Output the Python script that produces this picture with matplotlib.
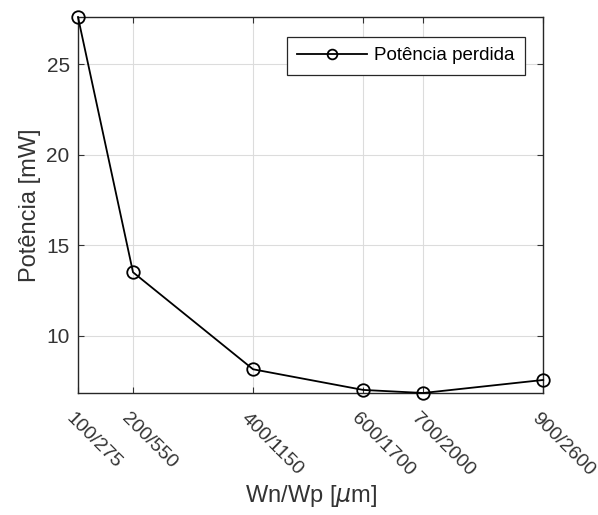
import numpy as np
import matplotlib.pyplot as plt
import matplotlib.transforms as mtransforms

# data
wn = [100, 200, 400, 600, 700, 900]
wp = [275, 550, 1150, 1700, 2000, 2600]
tick_labels = ["100/275", "200/550", "400/1150", "600/1700", "700/2000", "900/2600"]
potencia = [27.6, 13.5, 8.14, 7.0, 6.83, 7.55]

plt.rcParams['font.family'] = ['Liberation Sans', 'DejaVu Sans']

fig = plt.figure(figsize=(5.98, 5.15), dpi=100)
ax = fig.add_axes([0.1304, 0.2369, 0.778, 0.730])

ax.plot(wp, potencia, '-o', color='black', lw=1.3, ms=9, mfc='none', mew=1.3,
        label='Potência perdida', clip_on=False, zorder=3)

ax.set_xlim(min(wp), max(wp))
ax.set_ylim(min(potencia), max(potencia))
ax.set_xticks(wp)
ax.set_xticklabels(tick_labels, rotation=-45, ha='left', va='top',
                   rotation_mode='anchor')
ax.set_yticks([10, 15, 20, 25])

ax.grid(True, color='#dcdcdc', lw=0.8)
ax.set_axisbelow(True)
ax.tick_params(direction='in', top=True, right=True, labelsize=15,
               colors='#333333', length=4, pad=6)
ax.tick_params(axis='x', labelsize=14, pad=12)
# shift the rotated labels a little to the left, like matlab does
shift = mtransforms.ScaledTranslation(-3 / 100, 0, fig.dpi_scale_trans)
for lab in ax.get_xticklabels():
    lab.set_transform(lab.get_transform() + shift)

for s in ax.spines.values():
    s.set_color('#262626')
    s.set_linewidth(1.0)

ax.set_xlabel('Wn/Wp [$\\mu$m]', fontsize=17, color='#333333', labelpad=3)
ax.set_ylabel('Potência [mW]', fontsize=17, color='#333333', labelpad=4)

leg = ax.legend(loc='upper right', bbox_to_anchor=(0.961, 0.947), borderaxespad=0,
                fontsize=13.5, fancybox=False, edgecolor='#262626', framealpha=1,
                handlelength=3.7, handletextpad=0.4, borderpad=0.55)
leg.get_frame().set_linewidth(0.9)
for h in leg.legend_handles:
    h.set_markersize(7)

fig.savefig('out.png', dpi=100)
